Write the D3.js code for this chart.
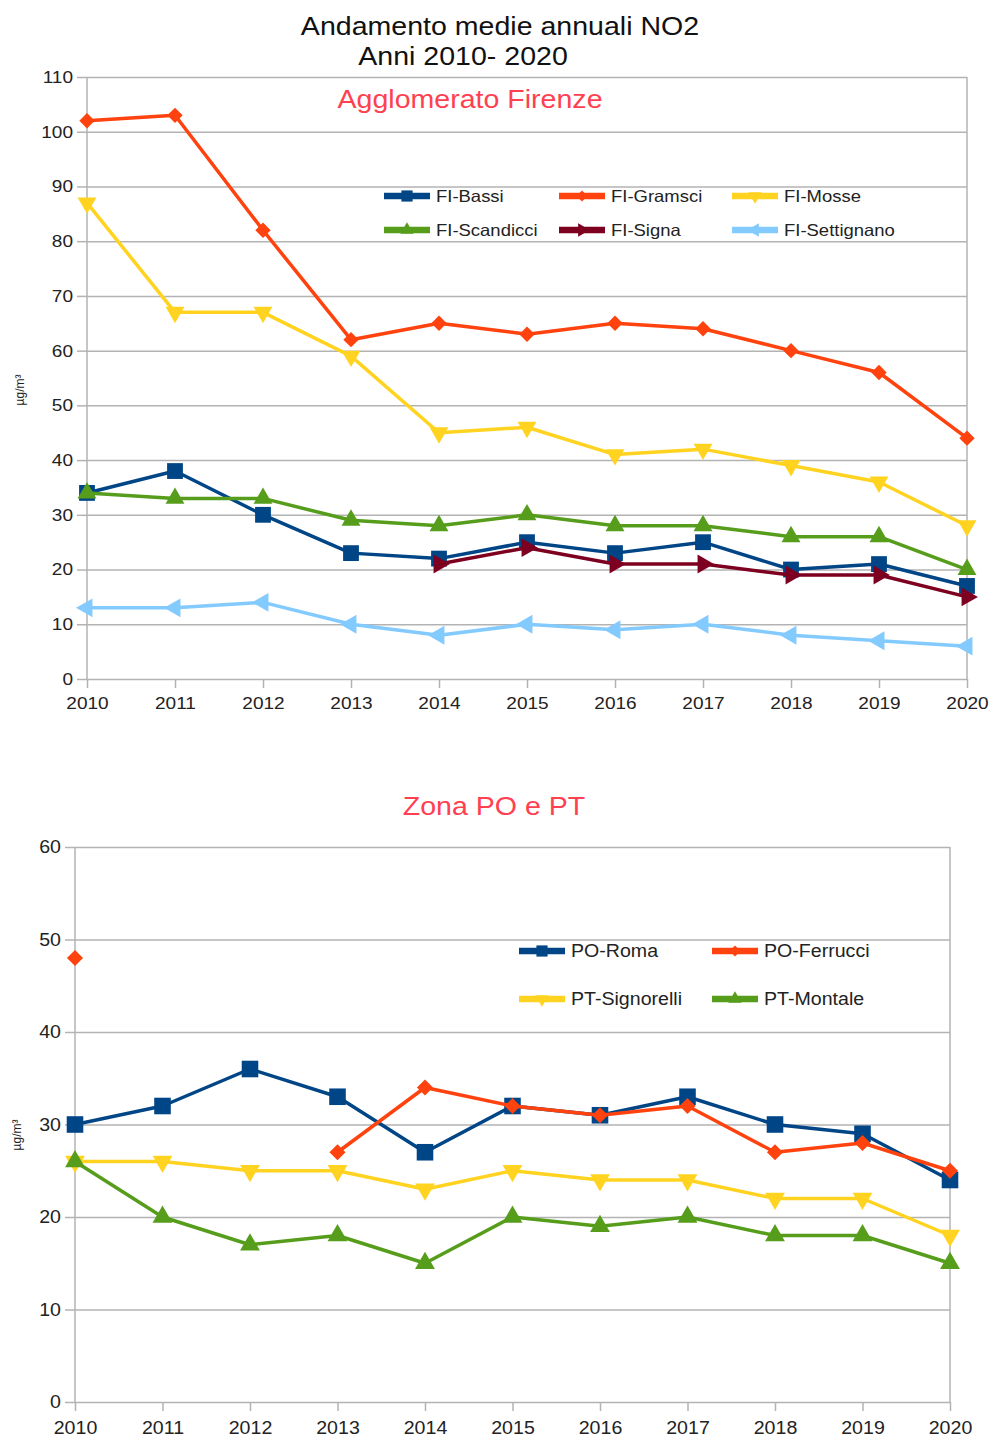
<!DOCTYPE html>
<html>
<head>
<meta charset="utf-8">
<script src="https://cdn.jsdelivr.net/npm/d3@7"></script>
<style>
  body { margin: 0; background: #fff; }
  text { font-family: "Liberation Sans", Arial, sans-serif; }
</style>
</head>
<body>
<svg id="chart" width="991" height="1437"></svg>
<script>
// anni sull'asse x
const years = [2010, 2011, 2012, 2013, 2014, 2015, 2016, 2017, 2018, 2019, 2020];

// Agglomerato Firenze (µg/m³)
const fiBassi = [34, 38, 30, 23, 22, 25, 23, 25, 20, 21, 17];
const fiGramsci = [102, 103, 82, 62, 65, 63, 65, 64, 60, 56, 44];
const fiMosse = [87, 67, 67, 59, 45, 46, 41, 42, 39, 36, 28];
const fiScandicci = [34, 33, 33, 29, 28, 30, 28, 28, 26, 26, 20];
const fiSigna = [null, null, null, null, 21, 24, 21, 21, 19, 19, 15];
const fiSettignano = [13, 13, 14, 10, 8, 10, 9, 10, 8, 7, 6];

// Zona PO e PT (µg/m³)
const poRoma = [30, 32, 36, 33, 27, 32, 31, 33, 30, 29, 24];
const poFerrucci = [48, null, null, 27, 34, 32, 31, 32, 27, 28, 25];
const ptSignorelli = [26, 26, 25, 25, 23, 25, 24, 24, 22, 22, 18];
const ptMontale = [26, 20, 17, 18, 15, 20, 19, 20, 18, 18, 15];

const ticksTop = [0, 10, 20, 30, 40, 50, 60, 70, 80, 90, 100, 110];
const ticksBottom = [0, 10, 20, 30, 40, 50, 60];

const svg = d3.select("#chart");
const SX = 1.12; // i testi dell'originale sono un po' allargati

const shapes = {
  square: { type: d3.symbolSquare, rot: 0 },
  diamond: { type: d3.symbolDiamond2, rot: 0 },
  down: { type: d3.symbolTriangle, rot: 180 },
  up: { type: d3.symbolTriangle, rot: 0 },
  right: { type: d3.symbolTriangle, rot: 90 },
  left: { type: d3.symbolTriangle, rot: -90 },
};
const symSize = { square: 250, diamond: 150, down: 155, up: 155, right: 155, left: 155 };

function addText(g, x, y, str, size, color, anchor = "middle") {
  return g.append("text")
    .attr("transform", `translate(${x},${y}) scale(${SX},1)`)
    .attr("text-anchor", anchor)
    .attr("font-size", size)
    .attr("fill", color)
    .text(str);
}

function panel(cfg) {
  const g = svg.append("g");
  const x = d3.scalePoint().domain(years).range([cfg.left, cfg.right]);
  const y = d3.scaleLinear().domain([0, d3.max(cfg.ticks)]).range([cfg.bottom, cfg.top]);
  const w = cfg.right - cfg.left;

  // griglia
  g.append("g")
    .attr("transform", `translate(${cfg.left},0)`)
    .call(d3.axisLeft(y).tickValues(cfg.ticks).tickSize(-w).tickFormat(""))
    .call((a) => a.select(".domain").remove())
    .selectAll("line")
    .attr("stroke", "#b3b3b3")
    .attr("stroke-width", 1.5);

  // asse y
  const ya = g.append("g")
    .attr("transform", `translate(${cfg.left},0)`)
    .call(d3.axisLeft(y).tickValues(cfg.ticks).tickSize(10).tickPadding(4));
  ya.select(".domain").remove();
  ya.selectAll("line").attr("stroke", "#b3b3b3").attr("stroke-width", 1.5);
  ya.selectAll("text")
    .attr("font-size", cfg.tickFont)
    .attr("fill", "#222")
    .attr("font-family", null)
    .attr("transform", `scale(${SX},1)`)
    .attr("x", -14 / SX);

  // asse x
  const xa = g.append("g")
    .attr("transform", `translate(0,${cfg.bottom})`)
    .call(d3.axisBottom(x).tickSize(9).tickPadding(cfg.xPad));
  xa.select(".domain").remove();
  xa.selectAll("line").attr("stroke", "#b3b3b3").attr("stroke-width", 1.5);
  xa.selectAll("text")
    .attr("font-size", cfg.tickFont)
    .attr("fill", "#222")
    .attr("font-family", null)
    .attr("transform", `scale(${SX},1)`);

  // cornice
  [cfg.left, cfg.right].forEach((xx) => {
    g.append("line")
      .attr("x1", xx).attr("x2", xx)
      .attr("y1", cfg.top).attr("y2", cfg.bottom)
      .attr("stroke", "#b3b3b3").attr("stroke-width", 1.5);
  });

  // etichetta asse y
  g.append("text")
    .attr("transform", `translate(${cfg.yLabelX},${cfg.yLabelY}) rotate(-90)`)
    .attr("text-anchor", "middle")
    .attr("font-size", 12)
    .attr("fill", "#222")
    .text("µg/m³");

  // serie
  const line = d3.line()
    .defined((d) => d != null)
    .x((d, i) => x(years[i]))
    .y((d) => y(d));

  cfg.series.forEach((s) => {
    g.append("path")
      .datum(s.values)
      .attr("fill", "none")
      .attr("stroke", s.color)
      .attr("stroke-width", 3.5)
      .attr("stroke-linejoin", "round")
      .attr("d", line);

    g.selectAll(null)
      .data(s.values.map((v, i) => ({ v, yr: years[i] })).filter((d) => d.v != null))
      .join("path")
      .attr("transform", (d) => `translate(${x(d.yr)},${y(d.v)}) rotate(${shapes[s.shape].rot})`)
      .attr("d", d3.symbol().type(shapes[s.shape].type).size(symSize[s.shape] * cfg.markScale))
      .attr("fill", s.color);
  });

  // legenda
  cfg.series.forEach((s, i) => {
    const lx = cfg.legCols[i % cfg.legCols.length];
    const ly = cfg.legRows[Math.floor(i / cfg.legCols.length)];
    g.append("line")
      .attr("x1", lx).attr("x2", lx + 46)
      .attr("y1", ly).attr("y2", ly)
      .attr("stroke", s.color).attr("stroke-width", 6.5);
    g.append("path")
      .attr("transform", `translate(${lx + 23},${ly}) rotate(${shapes[s.shape].rot})`)
      .attr("d", d3.symbol().type(shapes[s.shape].type).size(symSize[s.shape] * 0.5))
      .attr("fill", s.color);
    addText(g, lx + 52, ly + 6, s.name, cfg.legFont, "#222", "start");
  });

  addText(g, cfg.subX, cfg.subY, cfg.subtitle, 25.5, "#ff4050");
}

// titolo
addText(svg, 500, 35, "Andamento medie annuali NO2", 25.5, "#111");
addText(svg, 463, 65, "Anni 2010- 2020", 25.5, "#111");

panel({
  left: 87, right: 967, top: 77, bottom: 679,
  ticks: ticksTop, tickFont: 17, xPad: 9, markScale: 1,
  yLabelX: 24, yLabelY: 390,
  subtitle: "Agglomerato Firenze", subX: 470, subY: 108,
  legCols: [384, 559, 732], legRows: [196, 230], legFont: 16.5,
  series: [
    { name: "FI-Bassi", values: fiBassi, color: "#004586", shape: "square" },
    { name: "FI-Gramsci", values: fiGramsci, color: "#ff420e", shape: "diamond" },
    { name: "FI-Mosse", values: fiMosse, color: "#ffd320", shape: "down" },
    { name: "FI-Scandicci", values: fiScandicci, color: "#579d1c", shape: "up" },
    { name: "FI-Signa", values: fiSigna, color: "#7e0021", shape: "right" },
    { name: "FI-Settignano", values: fiSettignano, color: "#83caff", shape: "left" },
  ],
});

panel({
  left: 75, right: 950, top: 847, bottom: 1402,
  ticks: ticksBottom, tickFont: 17.5, xPad: 11, markScale: 1.1,
  yLabelX: 21, yLabelY: 1135,
  subtitle: "Zona PO e PT", subX: 494, subY: 815,
  legCols: [519, 712], legRows: [951, 999], legFont: 17.5,
  series: [
    { name: "PO-Roma", values: poRoma, color: "#004586", shape: "square" },
    { name: "PO-Ferrucci", values: poFerrucci, color: "#ff420e", shape: "diamond" },
    { name: "PT-Signorelli", values: ptSignorelli, color: "#ffd320", shape: "down" },
    { name: "PT-Montale", values: ptMontale, color: "#579d1c", shape: "up" },
  ],
});
</script>
</body>
</html>
